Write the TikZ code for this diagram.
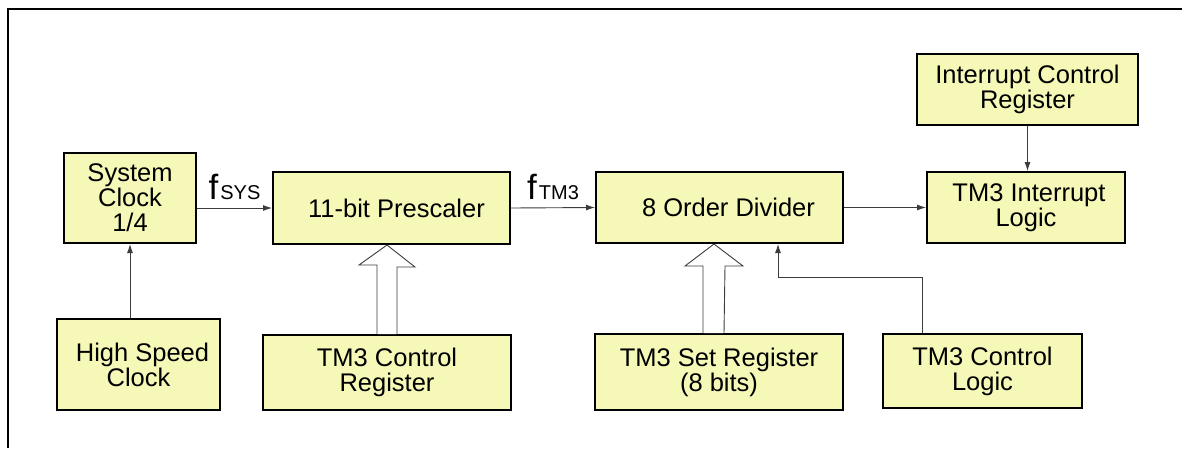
\documentclass[tikz,border=0pt]{standalone}
\usepackage{fontspec}
\setmainfont{Liberation Sans}
\usetikzlibrary{arrows.meta,calc}

\definecolor{boxfill}{RGB}{245,248,182}
\definecolor{wire}{RGB}{60,60,60}

\tikzset{
  block/.style={draw=black, line width=2pt, fill=boxfill, align=center,
    font=\fontsize{25.5}{25}\selectfont, inner sep=0pt},
  wireto/.style={draw=wire, line width=0.9pt, -{Latex[length=9pt,width=6pt]}},
  fatarrow/.style={draw=wire, line width=0.9pt, fill=white},
  freq/.style={inner sep=0pt, above=8pt}
}

\newcommand{\fsig}[1]{{\fontsize{35}{35}\selectfont f}\hspace{2pt}{\fontsize{20}{20}\selectfont #1}}

\begin{document}
\begin{tikzpicture}[x=1pt,y=-1pt]
  \useasboundingbox (0,0) rectangle (1182,448);
  % frame (cut off at right and bottom)
  \draw[line width=2.5pt] (8,448) -- (8,9) -- (1182,9);

  \node[block, minimum width=132pt, minimum height=90pt] (sysclk) at (130,198) {System\\Clock\\1/4};
  \node[block, minimum width=163pt, minimum height=91pt] (hsclk) at (138.5,364.5) {\hspace*{8pt}High Speed\\Clock};
  \node[block, minimum width=237pt, minimum height=72pt] (presc) at (391.5,208) {\hspace*{10pt}11-bit Prescaler};
  \node[block, minimum width=248pt, minimum height=75pt] (ctrlreg) at (387,372.5) {TM3 Control\\Register};
  \node[block, minimum width=247pt, minimum height=71pt] (divider) at (719.5,207.5) {\hspace*{18pt}8 Order Divider};
  \node[block, minimum width=248pt, minimum height=76pt] (setreg) at (719,372) {TM3 Set Register\\(8 bits)};
  \node[block, minimum width=198pt, minimum height=71pt] (intlogic) at (1026,207.5) {\hspace*{6pt}TM3 Interrupt\\Logic};
  \node[block, minimum width=221pt, minimum height=71pt] (intreg) at (1027.5,89.5) {Interrupt Control\\Register};
  \node[block, minimum width=199pt, minimum height=74pt] (ctrllogic) at (982.5,371) {TM3 Control\\Logic};

  % clock path
  \draw[wireto] (sysclk.south |- hsclk.north) -- (sysclk.south);
  \draw[wireto] (sysclk.east |- presc.west) -- node[freq] {\fsig{SYS}} (presc.west);
  \draw[wireto] (presc.east) -- node[freq] {\fsig{TM3}} (divider.west);
  \draw[wireto] (divider.east) -- (intlogic.west);
  \draw[wireto] (intreg.south) -- (intreg.south |- intlogic.north);
  \draw[wireto] ([xshift=-60pt]ctrllogic.north) -- ++(0,-56) -| ([xshift=58.5pt]divider.south);

  % register buses
  \draw[fatarrow] ([xshift=-10pt]ctrlreg.north) -- ++(0,-69) -- ++(-18,0)
    -- (ctrlreg.north |- presc.south) -- ++(28,22) -- ++(-18,0) -- ([xshift=10pt]ctrlreg.north);
  \draw[fatarrow] ([xshift=-16pt]setreg.north) -- ++(0,-67) -- ++(-18,0)
    -- ([xshift=-5pt]setreg.north |- divider.south) -- ++(29,22) -- ++(-18,0) -- ([xshift=5pt]setreg.north);
\end{tikzpicture}
\end{document}
